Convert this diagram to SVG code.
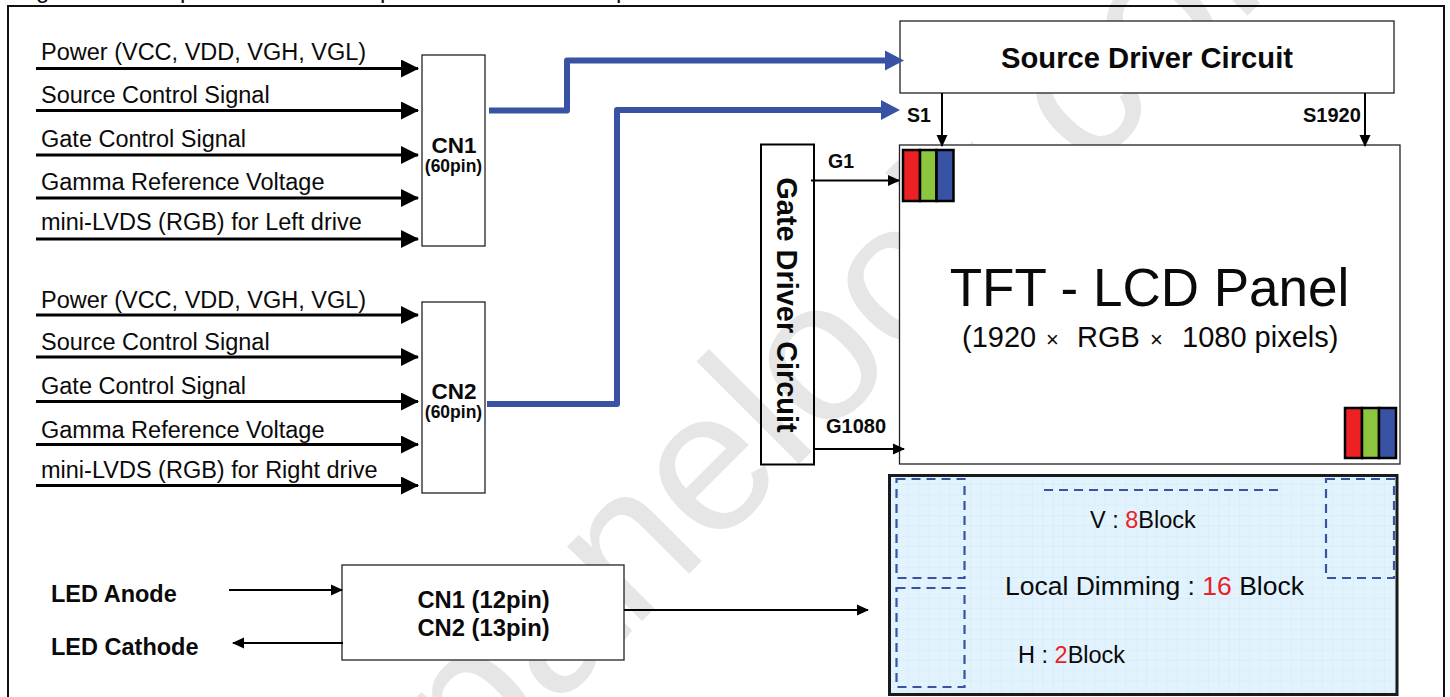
<svg xmlns="http://www.w3.org/2000/svg" width="1450" height="697" viewBox="0 0 1450 697">
<style>
text{font-family:"Liberation Sans",Arial,sans-serif;fill:#0a0a0a}
.b{font-weight:bold}
.box{fill:#fff;stroke:#222;stroke-width:1.3}
.lab{font-size:23.500px}
.thin{fill:none;stroke:#000;stroke-width:2}
.in{fill:none;stroke:#000;stroke-width:3}
.bus{fill:none;stroke:#3953a4;stroke-width:6;stroke-linejoin:round}
.dash{fill:none;stroke:#3953a4;stroke-width:2.200;stroke-dasharray:9 6}
.px{stroke:#000;stroke-width:2.500}
.red{fill:#ed2024}
</style>
<defs>
<marker id="h" markerUnits="userSpaceOnUse" markerWidth="18" markerHeight="18" refX="17" refY="9" orient="auto"><path d="M0 0L18 9L0 18z" fill="#000"/></marker>
<marker id="s" markerUnits="userSpaceOnUse" markerWidth="12" markerHeight="12" refX="11" refY="6" orient="auto"><path d="M0 0.500L12 6L0 11.500z" fill="#000"/></marker>
<pattern id="grid" width="10.350" height="10.350" patternUnits="userSpaceOnUse" x="970" y="484">
<rect width="10.350" height="10.350" fill="#e2f3fd"/>
<path d="M0 0H10.350M0 0V10.350" stroke="#cfeafa" stroke-width="1" fill="none"/>
</pattern>
</defs>
<rect width="1450" height="697" fill="#fff"/>
<g id="caption"><text font-size="24" y="-2"><tspan x="36">g</tspan><tspan x="180">p</tspan><tspan x="380">p</tspan><tspan x="616">p</tspan></text></g>
<g id="watermark"><text transform="translate(475 788) rotate(-45)" font-size="200" style="fill:#e6e6e6">panelook.com</text></g>
<rect id="frame" x="8" y="6" width="1436" height="720" fill="none" stroke="#111" stroke-width="2"/>

<g id="cn1"><rect class="box" x="422" y="55" width="63" height="191"/><text class="b" font-size="22.500" x="454" y="153" text-anchor="middle">CN1</text><text class="b" font-size="17.500" x="453.500" y="171.500" text-anchor="middle">(60pin)</text></g>
<g id="cn2"><rect class="box" x="422" y="302" width="63" height="191"/><text class="b" font-size="22.500" x="454" y="399" text-anchor="middle">CN2</text><text class="b" font-size="17.500" x="453.500" y="418" text-anchor="middle">(60pin)</text></g>
<g id="source-driver"><rect class="box" x="900" y="21" width="494" height="72"/><text class="b" font-size="29.200" x="1147" y="68" text-anchor="middle">Source Driver Circuit</text></g>
<g id="gate-driver"><rect x="761" y="144.500" width="53" height="320" fill="none" stroke="#000" stroke-width="2"/><text class="b" font-size="28.900" transform="translate(776.500 305) rotate(90)" text-anchor="middle">Gate Driver Circuit</text></g>
<g id="panel"><rect class="box" x="899.500" y="145" width="500.500" height="319"/>
<text font-size="53" x="1149.500" y="306" text-anchor="middle">TFT - LCD Panel</text>
<text font-size="29" y="347"><tspan x="962">(1920</tspan><tspan x="1046" font-size="22">×</tspan><tspan x="1077">RGB</tspan><tspan x="1150" font-size="22">×</tspan><tspan x="1182">1080 pixels)</tspan></text>
<g id="pixel-a"><rect class="px" x="903" y="150" width="17" height="51" fill="#ed2024"/><rect class="px" x="920" y="150" width="16.500" height="51" fill="#8cc63f"/><rect class="px" x="936.500" y="150" width="17" height="51" fill="#3953a4"/></g>
<g id="pixel-b"><rect class="px" x="1345" y="408" width="17" height="50" fill="#ed2024"/><rect class="px" x="1362" y="408" width="17" height="50" fill="#8cc63f"/><rect class="px" x="1379" y="408" width="17" height="50" fill="#3953a4"/></g>
</g>
<g id="led-connector"><rect class="box" x="342" y="565" width="282" height="95"/><text class="b" font-size="23.800" x="483.500" y="607.500" text-anchor="middle">CN1 (12pin)</text><text class="b" font-size="23.800" x="483.500" y="635.500" text-anchor="middle">CN2 (13pin)</text></g>
<g id="backlight"><rect x="889.500" y="475.500" width="507.500" height="219" fill="url(#grid)" stroke="#1a1a1a" stroke-width="3"/>
<rect class="dash" x="896.500" y="479" width="68" height="99"/><rect class="dash" x="896.500" y="588" width="68" height="99"/><rect class="dash" x="1326" y="479" width="68" height="99"/>
<path class="dash" d="M1044 490H1279"/>
<text font-size="23.500" x="1090" y="528">V : <tspan class="red">8</tspan>Block</text>
<text font-size="26.500" x="1005" y="595">Local Dimming : <tspan class="red">16</tspan> Block</text>
<text font-size="23.500" x="1018" y="663">H : <tspan class="red">2</tspan>Block</text>
</g>

<g id="labels">
<text class="lab" x="41" y="59.500">Power (VCC, VDD, VGH, VGL)</text>
<text class="lab" x="41" y="102.500">Source Control Signal</text>
<text class="lab" x="41" y="146.500">Gate Control Signal</text>
<text class="lab" x="41" y="189.500">Gamma Reference Voltage</text>
<text class="lab" x="41" y="229.500">mini-LVDS (RGB) for Left drive</text>
<text class="lab" x="41" y="307.500">Power (VCC, VDD, VGH, VGL)</text>
<text class="lab" x="41" y="349.500">Source Control Signal</text>
<text class="lab" x="41" y="393.500">Gate Control Signal</text>
<text class="lab" x="41" y="437.500">Gamma Reference Voltage</text>
<text class="lab" x="41" y="477.500">mini-LVDS (RGB) for Right drive</text>
<text class="b" font-size="23.500" x="51" y="602">LED Anode</text>
<text class="b" font-size="23.500" x="51" y="655">LED Cathode</text>
<text class="b" font-size="19.500" x="907" y="122">S1</text>
<text class="b" font-size="20" x="1303" y="122">S1920</text>
<text class="b" font-size="19.500" x="828" y="168">G1</text>
<text class="b" font-size="20" x="826" y="433">G1080</text>
</g>

<g id="connectors">
<path class="in" marker-end="url(#h)" d="M36 68.500H418"/>
<path class="in" marker-end="url(#h)" d="M36 110.500H418"/>
<path class="in" marker-end="url(#h)" d="M36 155H418"/>
<path class="in" marker-end="url(#h)" d="M36 198H418"/>
<path class="in" marker-end="url(#h)" d="M36 239H418"/>
<path class="in" marker-end="url(#h)" d="M36 315H418"/>
<path class="in" marker-end="url(#h)" d="M36 357H418"/>
<path class="in" marker-end="url(#h)" d="M36 401.500H418"/>
<path class="in" marker-end="url(#h)" d="M36 444.500H418"/>
<path class="in" marker-end="url(#h)" d="M36 485.500H418"/>
<path class="bus" d="M489 110.500H567V60.500H888"/><path d="M885 50.500L904 60.500L885 70.500z" fill="#3953a4"/>
<path class="bus" d="M487 404H617V110H884"/><path d="M881 100L900 110L881 120z" fill="#3953a4"/>
<path class="thin" marker-end="url(#s)" d="M942 93V146"/>
<path class="thin" marker-end="url(#s)" d="M1365 93V146"/>
<path class="thin" marker-end="url(#s)" d="M811 180.500H899"/>
<path class="thin" marker-end="url(#s)" d="M815 449H904"/>
<path class="thin" marker-end="url(#s)" d="M229 590H342"/>
<path class="thin" marker-end="url(#s)" d="M343 643H233"/>
<path class="thin" marker-end="url(#s)" d="M624 610H868"/>
</g>
</svg>
